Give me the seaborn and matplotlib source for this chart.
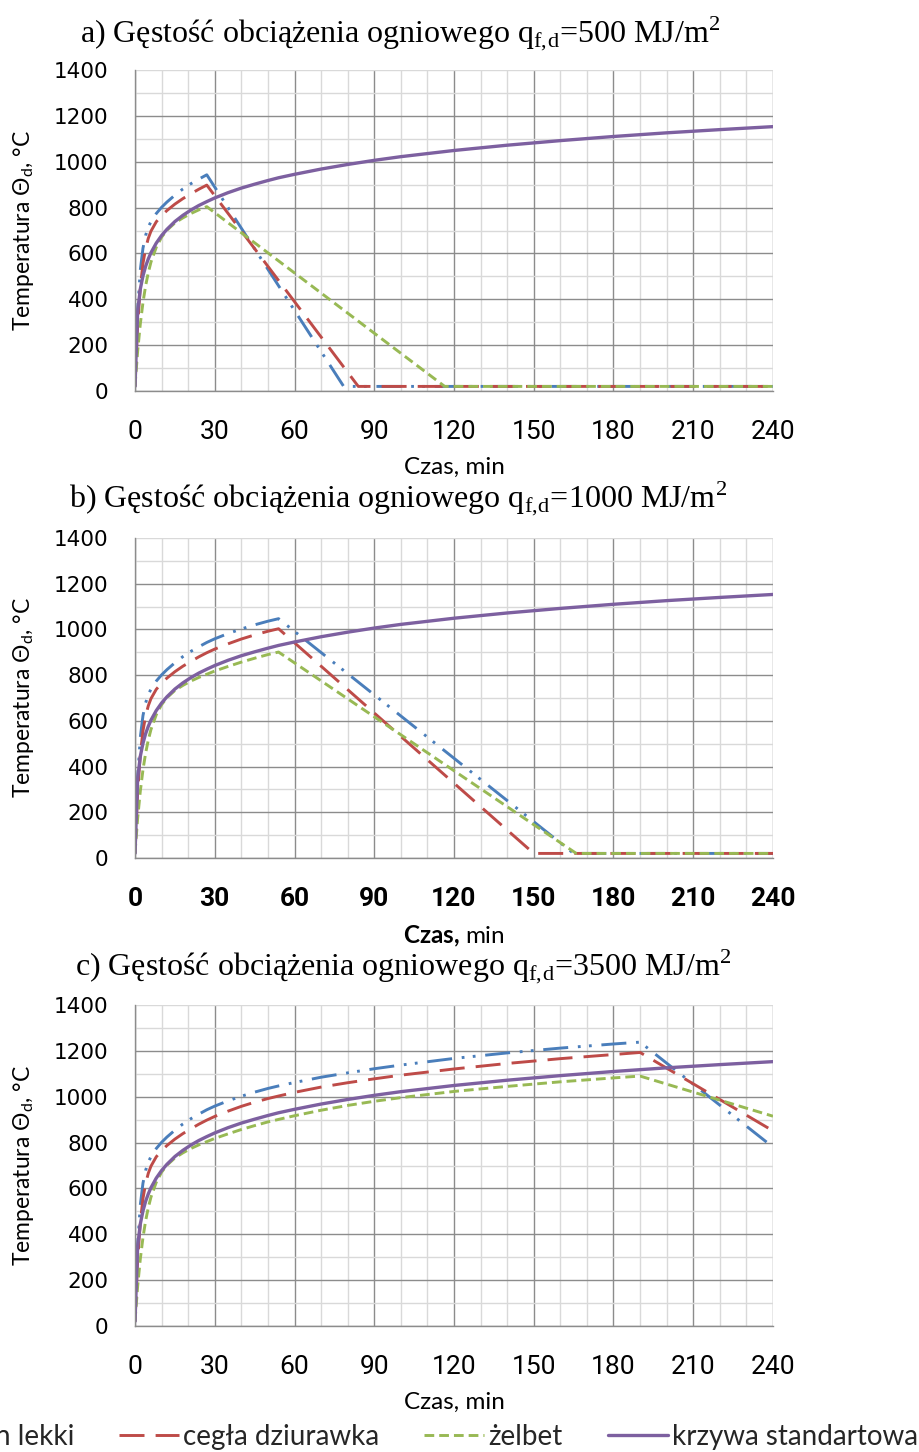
import matplotlib
matplotlib.use("Agg")
import matplotlib.pyplot as plt
import seaborn as sns

# ---------------- data ----------------
time_heat = [0, 1, 2, 3, 4, 5, 6, 8, 10, 12, 15, 18, 21, 24, 27, 30, 35, 40, 45, 50, 54,
             60, 70, 80, 90, 100, 120, 140, 160, 180, 190]
beton_lekki_heat = [20, 353, 528, 623, 679, 714, 739, 774, 801, 824, 854, 881, 904, 924, 943,
                    959, 982, 1002, 1020, 1036, 1047, 1062, 1085, 1104, 1122, 1138, 1167, 1191,
                    1212, 1230, 1238]
cegla_heat = [20, 288, 453, 556, 622, 666, 697, 738, 765, 787, 815, 839, 860, 880, 898,
              914, 937, 958, 976, 992, 1003, 1019, 1042, 1061, 1078, 1094, 1121, 1145,
              1166, 1184, 1193]
zelbet_heat = [20, 174, 293, 386, 459, 516, 562, 627, 671, 701, 733, 755, 774, 790, 804,
               818, 838, 857, 874, 890, 901, 917, 941, 962, 980, 996, 1023, 1045,
               1065, 1082, 1090]
time_std = [0, 1, 2, 3, 4, 5, 6, 8, 10, 12, 15, 18, 21, 24, 27, 30, 35, 40, 45, 50, 54,
            60, 70, 80, 90, 100, 120, 140, 160, 180, 190, 200, 220, 240]
std_curve = [20, 349, 445, 502, 544, 576, 603, 645, 678, 705, 739, 766, 789, 809, 826,
             842, 865, 885, 902, 918, 930, 945, 968, 988, 1006, 1022, 1049, 1072,
             1092, 1110, 1118, 1126, 1140, 1153]

# peak time of each scenario (a, b, c) and end of the cooling branch (time, temperature)
peak_time = [27, 54, 190]
beton_lekki_end = [(78.5, 20), (165, 20), (240, 780)]
cegla_end = [(84, 20), (150, 20), (240, 851)]
zelbet_end = [(116.5, 20), (166, 20), (240, 915)]
ambient = 20
t_end = 240

labels = ["beton lekki", "cegła dziurawka", "żelbet", "krzywa standartowa"]
loads = ["500", "1000", "3500"]
letters = ["a", "b", "c"]
x_ticks = list(range(0, 241, 30))
y_ticks = list(range(0, 1401, 200))

# ---------------- style ----------------
sns.set_theme(style="white")
plt.rcParams["font.family"] = ["DejaVu Sans"]
plt.rcParams["lines.scale_dashes"] = False
plt.rcParams["mathtext.fontset"] = "custom"
plt.rcParams["mathtext.rm"] = "Lato"
plt.rcParams["mathtext.it"] = "Lato:italic"
plt.rcParams["mathtext.bf"] = "Lato:bold"

colors = ["#4A7EBB", "#BE4B48", "#98B954", "#7D60A0"]
styles = [(0, (18, 7, 2, 6, 2, 7)), (0, (18, 8)), (0, (7, 3.6)), "-"]
widths = [2.1, 2.1, 2.1, 2.4]
MAJ = "#8C8C8C"
MIN = "#D9D9D9"

W, H = 920, 1452
fig = plt.figure(figsize=(W / 100, H / 100), dpi=100)

# axes rectangles in pixels: left, top, right, bottom
rects_px = [(135, 70, 773, 391), (135, 538, 773, 858), (135, 1005, 773, 1326)]
title_base = [42, 507, 975]
title_x = [400, 398, 403]

heats = [beton_lekki_heat, cegla_heat, zelbet_heat]
ends = [beton_lekki_end, cegla_end, zelbet_end]

for i, (l, t, r, b) in enumerate(rects_px):
    ax = fig.add_axes([l / W, 1 - b / H, (r - l) / W, (b - t) / H])
    k = time_heat.index(peak_time[i])
    for j in range(3):
        tx = time_heat[:k + 1] + [ends[j][i][0]]
        ty = heats[j][:k + 1] + [ends[j][i][1]]
        if ends[j][i][0] < t_end:
            tx.append(t_end)
            ty.append(ambient)
        sns.lineplot(x=tx, y=ty, ax=ax, color=colors[j], linewidth=widths[j],
                     linestyle=styles[j], estimator=None, sort=False,
                     label=labels[j], legend=False)
    sns.lineplot(x=time_std, y=std_curve, ax=ax, color=colors[3], linewidth=widths[3],
                 linestyle="-", estimator=None, sort=False, label=labels[3], legend=False)

    ax.set_xlim(0, 240)
    ax.set_ylim(0, 1400)
    ax.set_xticks(x_ticks)
    ax.set_xticks(range(0, 241, 10), minor=True)
    ax.set_yticks(y_ticks)
    ax.set_yticks(range(0, 1401, 100), minor=True)
    ax.grid(which="major", color=MAJ, linewidth=1.0)
    ax.grid(which="minor", color=MIN, linewidth=1.0)
    ax.yaxis.get_gridlines()[-1].set_color(MIN)
    ax.set_axisbelow(True)
    for s in ["top", "right"]:
        ax.spines[s].set_visible(False)
    for s in ["left", "bottom"]:
        ax.spines[s].set_color(MAJ)
        ax.spines[s].set_linewidth(1.0)
    ax.tick_params(which="major", direction="out", length=6, width=1, color=MAJ)
    ax.tick_params(which="minor", length=0)
    ax.tick_params(axis="y", pad=13, labelsize=15.5, labelcolor="black")
    ax.tick_params(axis="x", pad=15, labelsize=19, labelcolor="black")
    for lab in ax.get_yticklabels():
        lab.set_family("DejaVu Sans")
        lab.set_fontsize(15.5)
    for lab in ax.get_xticklabels():
        lab.set_family("Roboto")
        if i == 1:
            lab.set_fontweight("bold")

    ax.set_ylabel("Temperatura Θ$_\\mathregular{d}$, °C", family="Lato", fontsize=16.5,
                  color="black")
    ax.yaxis.set_label_coords((36 - l) / (r - l), 0.5)
    if i == 1:
        ax.set_xlabel("$\\mathbf{Czas}$$\\mathbf{,}$ min", family="Lato", fontsize=17.5,
                      color="black")
    else:
        ax.set_xlabel("Czas, min", family="Lato", fontsize=17.5, color="black")
    ax.xaxis.set_label_coords(0.5, -66 / (b - t))

    fig.text(title_x[i] / W, 1 - title_base[i] / H,
             f"{letters[i]}) Gęstość obciążenia ogniowego q$_{{\\mathregular{{f,\\!d}}}}$={loads[i]} MJ/m$^{{\\mathregular{{2}}}}$",
             family="Liberation Serif", fontsize=23, ha="center", va="baseline", color="black")

    last_ax = ax

handles = last_ax.get_lines()[:4]
fig.legend(handles, labels, loc="center right", bbox_to_anchor=(918 / W, 1 - 1437 / H),
           ncol=4, frameon=False, prop={"family": "Lato", "size": 20},
           handlelength=2.16, handletextpad=0.15, columnspacing=1.62,
           borderaxespad=0, borderpad=0)

fig.savefig("out.png", dpi=100)
